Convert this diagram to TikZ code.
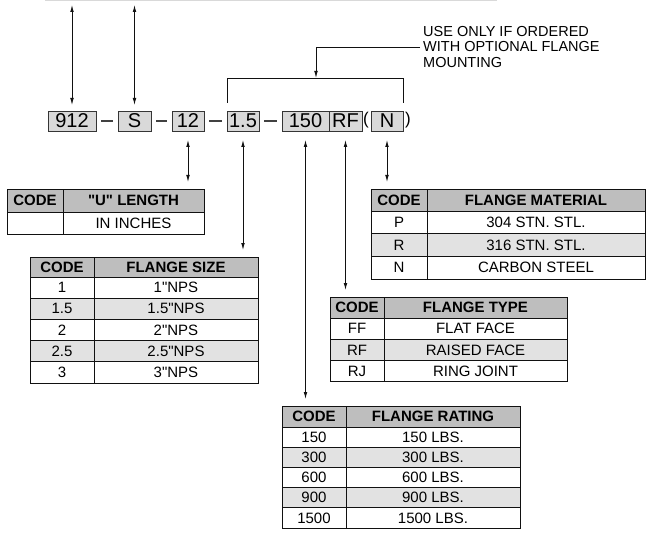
\documentclass[tikz,border=0pt]{standalone}
\usepackage{fontspec}
\setmainfont{Liberation Sans}[Ligatures=TeXOff]
\usepackage{tikz}
\usetikzlibrary{arrows.meta, calc}
\definecolor{boxgray}{HTML}{D9D9D9}
\definecolor{headgray}{HTML}{BEBEBE}
\definecolor{rowgray}{HTML}{E2E2E2}
\definecolor{tblink}{HTML}{111111}
\newcommand{\celltxt}{\fontsize{15}{15.8}\selectfont}
\newcommand{\codetxt}{\fontsize{20}{20}\selectfont}

% #1 name, #2 left x, #3 divider x, #4 right x, #5 top y,
% #6 header height, #7 row height, #8 title, #9 code/value rows
\newcommand{\codetable}[9]{%
  \node[hcell, minimum width={#3-#2}, minimum height={#6}] (#1hc) at (#2,#5) {CODE};
  \node[hcell, minimum width={#4-#3}, minimum height={#6}] (#1ht) at (#3,#5) {#8};
  \foreach \kk/\vv [count=\i] in {#9} {
    \ifodd\i \def\rowfill{white}\else \def\rowfill{rowgray}\fi
    \node[cell, fill=\rowfill, minimum width={#3-#2}, minimum height={#7}] (#1c\i) at (#2,{#5+#6+(\i-1)*#7}) {\kk};
    \node[cell, fill=\rowfill, minimum width={#4-#3}, minimum height={#7}] (#1v\i) at (#3,{#5+#6+(\i-1)*#7}) {\vv};
  }
}

\begin{document}
\begin{tikzpicture}[x=1pt, y=-1pt,
  codebox/.style={draw=tblink!85, fill=boxgray, line width=0.9pt, minimum height=20, inner sep=0pt, outer sep=0pt, font=\codetxt},
  paren/.style={inner sep=0pt, font=\fontsize{17}{17}\selectfont},
  cell/.style={draw=tblink, line width=1pt, anchor=north west, inner sep=0pt, outer sep=0pt, font=\celltxt},
  hcell/.style={cell, fill=headgray, font=\celltxt\bfseries},
  note/.style={align=left, inner sep=3pt, anchor=west, font=\fontsize{14.5}{15.8}\selectfont},
  joiner/.style={line width=1.1pt, tblink!80, shorten <=5pt, shorten >=5pt},
  dbl/.style={{Latex[length=7pt,width=3.6pt]}-{Latex[length=7pt,width=3.6pt]}, line width=0.8pt, tblink},
  arr/.style={-{Latex[length=7pt,width=3.6pt]}, line width=0.8pt, tblink}
]
  \useasboundingbox (0,0) rectangle (649,535);
  \draw[gray!30, line width=0.8pt] (45,0.6) -- (497,0.6);

  % model code
  \node[codebox, minimum width=48] (b912) at (72,121) {912};
  \node[codebox, minimum width=33] (bS) at (134.5,121) {S};
  \node[codebox, minimum width=32] (b12) at (188,121) {12};
  \node[codebox, minimum width=32] (b15) at (243,121) {1.5};
  \node[codebox, minimum width=47] (b150) at (305.5,121) {150};
  \node[codebox, minimum width=33] (bRF) at (345.5,121) {RF};
  \node[paren] (lpar) at (366,120) {(};
  \node[codebox, minimum width=32] (bN) at (387,121) {N};
  \node[paren] (rpar) at (408,120) {)};

  \draw[joiner] (b912) -- (bS);
  \draw[joiner] (bS) -- (b12);
  \draw[joiner] (b12) -- (b15);
  \draw[joiner] (b15) -- (b150);

  % optional flange bracket
  \coordinate (brl) at (227,78);
  \coordinate (brr) at (403,78);
  \coordinate (brmid) at (316,78);
  \draw[line width=0.9pt, tblink] ([yshift=8pt]b15.north west) -- (brl) -- (brr) -- ([yshift=8pt]bN.north east);
  \node[note] (optnote) at (420,47) {USE ONLY IF ORDERED\\WITH OPTIONAL FLANGE\\MOUNTING};
  \draw[arr] (optnote.west) -| (brmid);

  % tables
  \codetable{ul}{7}{63}{204}{189}{23}{22}{"U" LENGTH}{{}/IN INCHES}
  \codetable{fs}{30}{94}{258}{257}{20}{21.2}{FLANGE SIZE}{1/1"NPS, 1.5/1.5"NPS, 2/2"NPS, 2.5/2.5"NPS, 3/3"NPS}
  \codetable{fm}{371}{427}{645}{189}{22}{22.7}{FLANGE MATERIAL}{P/304 STN. STL., R/316 STN. STL., N/CARBON STEEL}
  \codetable{ft}{330}{384}{567}{297}{21}{21.3}{FLANGE TYPE}{FF/FLAT FACE, RF/RAISED FACE, RJ/RING JOINT}
  \codetable{fr}{282}{346}{520}{406}{21}{20.2}{FLANGE RATING}{150/150 LBS., 300/300 LBS., 600/600 LBS., 900/900 LBS., 1500/1500 LBS.}

  % leaders
  \coordinate (top912) at (72,5);
  \coordinate (topS) at (134.5,5);
  \draw[dbl, shorten >=6pt] (top912) -- (b912.north);
  \draw[dbl, shorten >=6pt] (topS) -- (bS.north);
  \draw[dbl, shorten <=9pt, shorten >=7pt] (b12.south) -- (b12.south |- ulhc.north);
  \draw[dbl, shorten <=9pt, shorten >=7pt] (b15.south) -- (b15.south |- fshc.north);
  \draw[dbl, shorten <=9pt, shorten >=7pt] (b150.south) -- (b150.south |- frhc.north);
  \draw[dbl, shorten <=9pt, shorten >=7pt] (bRF.south) -- (bRF.south |- fthc.north);
  \draw[dbl, shorten <=9pt, shorten >=7pt] (bN.south) -- (bN.south |- fmhc.north);
\end{tikzpicture}
\end{document}
